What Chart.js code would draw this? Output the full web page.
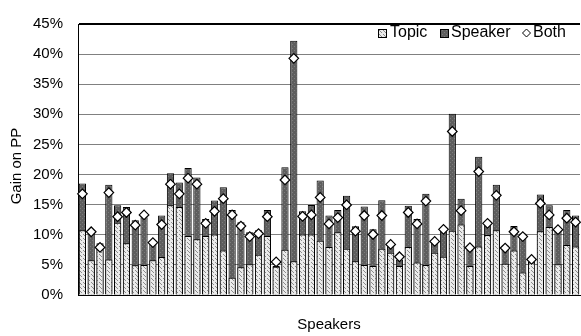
<!DOCTYPE html>
<html>
<head>
<meta charset="utf-8">
<script src="https://cdn.jsdelivr.net/npm/chart.js@4/dist/chart.umd.min.js"></script>
<style>
  html, body { margin: 0; padding: 0; background: #fff; overflow: hidden; }
  #wrap { width: 586px; height: 336px; }
  canvas { display: block; }
</style>
</head>
<body>
<div id="wrap"><canvas id="c" width="586" height="336" style="width:586px;height:336px"></canvas></div>
<script>
// ---- data (percent gain on PP) ----
const speakers = Array.from({length: 57}, (_, i) => 'S' + (i + 1));
const topicGain = [10.75, 5.75, 7.6, 5.9, 12.0, 8.6, 4.95, 5.0, 5.75, 6.3,
  14.9, 14.6, 9.8, 9.25, 9.8, 10.05, 7.4, 2.85, 4.6, 5.1,
  6.7, 9.8, 4.7, 7.5, 5.6, 10.05, 10.05, 9.0, 7.95, 10.4,
  7.7, 5.6, 5.0, 4.8, 7.7, 7.0, 4.8, 7.95, 5.4, 5.0,
  7.0, 6.35, 10.65, 11.7, 4.8, 8.05, 9.95, 10.75, 5.2, 7.4,
  3.75, 5.4, 10.6, 11.3, 5.1, 8.3, 8.05];
const speakerGain = [18.5, 10.8, 8.6, 18.3, 14.9, 14.6, 12.4, 12.9, 9.0, 13.2,
  20.2, 18.7, 21.1, 19.5, 12.6, 15.7, 17.9, 14.1, 12.1, 10.4,
  10.75, 14.1, 4.8, 21.2, 42.2, 13.9, 14.95, 19.0, 13.2, 14.1,
  16.5, 11.4, 14.7, 10.9, 15.75, 8.2, 5.9, 14.8, 12.6, 16.8,
  9.1, 11.3, 30.1, 16.0, 7.5, 22.95, 12.35, 18.3, 8.2, 11.45,
  10.2, 5.55, 16.7, 14.9, 11.0, 14.1, 13.2];
const bothGain = [16.8, 10.5, 7.9, 17.0, 13.0, 13.7, 11.6, 13.3, 8.7, 11.7,
  18.4, 16.8, 19.4, 18.4, 11.9, 13.9, 16.0, 13.3, 11.45, 9.7,
  10.2, 13.0, 5.5, 19.1, 39.3, 13.05, 13.3, 16.2, 11.8, 12.85,
  14.95, 10.6, 13.2, 10.05, 13.2, 8.4, 6.35, 13.7, 11.8, 15.6,
  8.9, 10.9, 27.15, 14.0, 7.85, 20.5, 11.9, 16.55, 7.8, 10.5,
  9.7, 5.9, 15.2, 13.3, 10.85, 12.75, 12.1];
const seriesNames = ['Topic', 'Speaker', 'Both'];
const yTicks = [0, 5, 10, 15, 20, 25, 30, 35, 40, 45];

// ---- fill patterns ----
function makePattern(w, h, base, dotColor, dots) {
  const c = document.createElement('canvas');
  c.width = w; c.height = h;
  const g = c.getContext('2d');
  g.fillStyle = base; g.fillRect(0, 0, w, h);
  g.fillStyle = dotColor;
  dots.forEach(([x, y]) => g.fillRect(x, y, 1, 1));
  return g.createPattern(c, 'repeat');
}
const topicFill = makePattern(4, 4, '#ebebeb', '#8c8c8c', [[1, 0], [3, 2], [0, 3]]);
const speakerFill = makePattern(4, 4, '#5e5e5e', '#7c7c7c', [[0, 0], [2, 2]]);

const FONT = "'Liberation Sans', Arial, sans-serif";

const extras = {
  id: 'extras',
  afterDraw(chart) {
    const ctx = chart.ctx;
    ctx.save();
    ctx.fillStyle = '#000';
    ctx.font = '15px ' + FONT;
    ctx.textAlign = 'center';
    ctx.textBaseline = 'middle';
    // axis titles
    ctx.fillText('Speakers', 329, 325);
    ctx.save();
    ctx.translate(17, 166);
    ctx.rotate(-Math.PI / 2);
    ctx.fillText('Gain on PP', 0, 0);
    ctx.restore();
    // legend
    const ly = 33;
    ctx.font = '16px ' + FONT;
    ctx.textAlign = 'left';
    ctx.lineWidth = 1;
    ctx.strokeStyle = '#000';
    // Topic
    ctx.fillStyle = topicFill;
    ctx.fillRect(378, ly - 4, 9, 9);
    ctx.strokeRect(378.5, ly - 3.5, 8, 8);
    ctx.fillStyle = '#000';
    ctx.fillText(seriesNames[0], 390, ly);
    // Speaker
    ctx.fillStyle = speakerFill;
    ctx.fillRect(440, ly - 4, 9, 9);
    ctx.strokeRect(440.5, ly - 3.5, 8, 8);
    ctx.fillStyle = '#000';
    ctx.fillText(seriesNames[1], 451, ly);
    // Both
    ctx.beginPath();
    ctx.moveTo(526.5, ly - 4); ctx.lineTo(530.5, ly); ctx.lineTo(526.5, ly + 4); ctx.lineTo(522.5, ly); ctx.closePath();
    ctx.fillStyle = '#fff'; ctx.fill(); ctx.stroke();
    ctx.fillStyle = '#000';
    ctx.fillText(seriesNames[2], 533, ly);
    ctx.restore();
  }
};

new Chart(document.getElementById('c'), {
  data: {
    labels: speakers,
    datasets: [
      { type: 'line', label: seriesNames[2], data: bothGain, showLine: false,
        pointStyle: 'rectRot', pointRadius: 4.8, pointBackgroundColor: '#fff',
        pointBorderColor: '#000', pointBorderWidth: 1.2, order: 0 },
      { type: 'bar', label: seriesNames[0], data: topicGain, backgroundColor: topicFill,
        borderColor: '#000', borderWidth: 1, grouped: false, order: 1,
        categoryPercentage: 1, barPercentage: 0.82 },
      { type: 'bar', label: seriesNames[1], data: speakerGain, backgroundColor: speakerFill,
        borderColor: '#000', borderWidth: 1, grouped: false, order: 2,
        categoryPercentage: 1, barPercentage: 0.82 }
    ]
  },
  options: {
    responsive: false,
    animation: false,
    events: [],
    layout: { padding: { top: 10, right: 1, left: 0, bottom: 0 } },
    plugins: { legend: { display: false }, tooltip: { enabled: false }, title: { display: false } },
    scales: {
      x: {
        grid: { display: false, drawTicks: false },
        border: { display: true, color: '#000', width: 1 },
        ticks: { display: false },
        afterFit(s) { s.height = 41; }
      },
      y: {
        min: 0, max: 45,
        afterBuildTicks(s) { s.ticks = yTicks.map(v => ({ value: v })); },
        ticks: {
          padding: 15, color: '#000',
          font: { family: FONT, size: 15 },
          callback: v => v + '%'
        },
        grid: {
          drawTicks: false,
          color: c => (c.tick && (c.tick.value === 45 || c.tick.value === 0)) ? '#000' : '#808080',
          lineWidth: c => (c.tick && c.tick.value === 45) ? 2 : 1
        },
        border: { display: true, color: '#000', width: 1 },
        afterFit(s) { s.width = 78; }
      }
    }
  },
  plugins: [extras]
});
</script>
</body>
</html>
